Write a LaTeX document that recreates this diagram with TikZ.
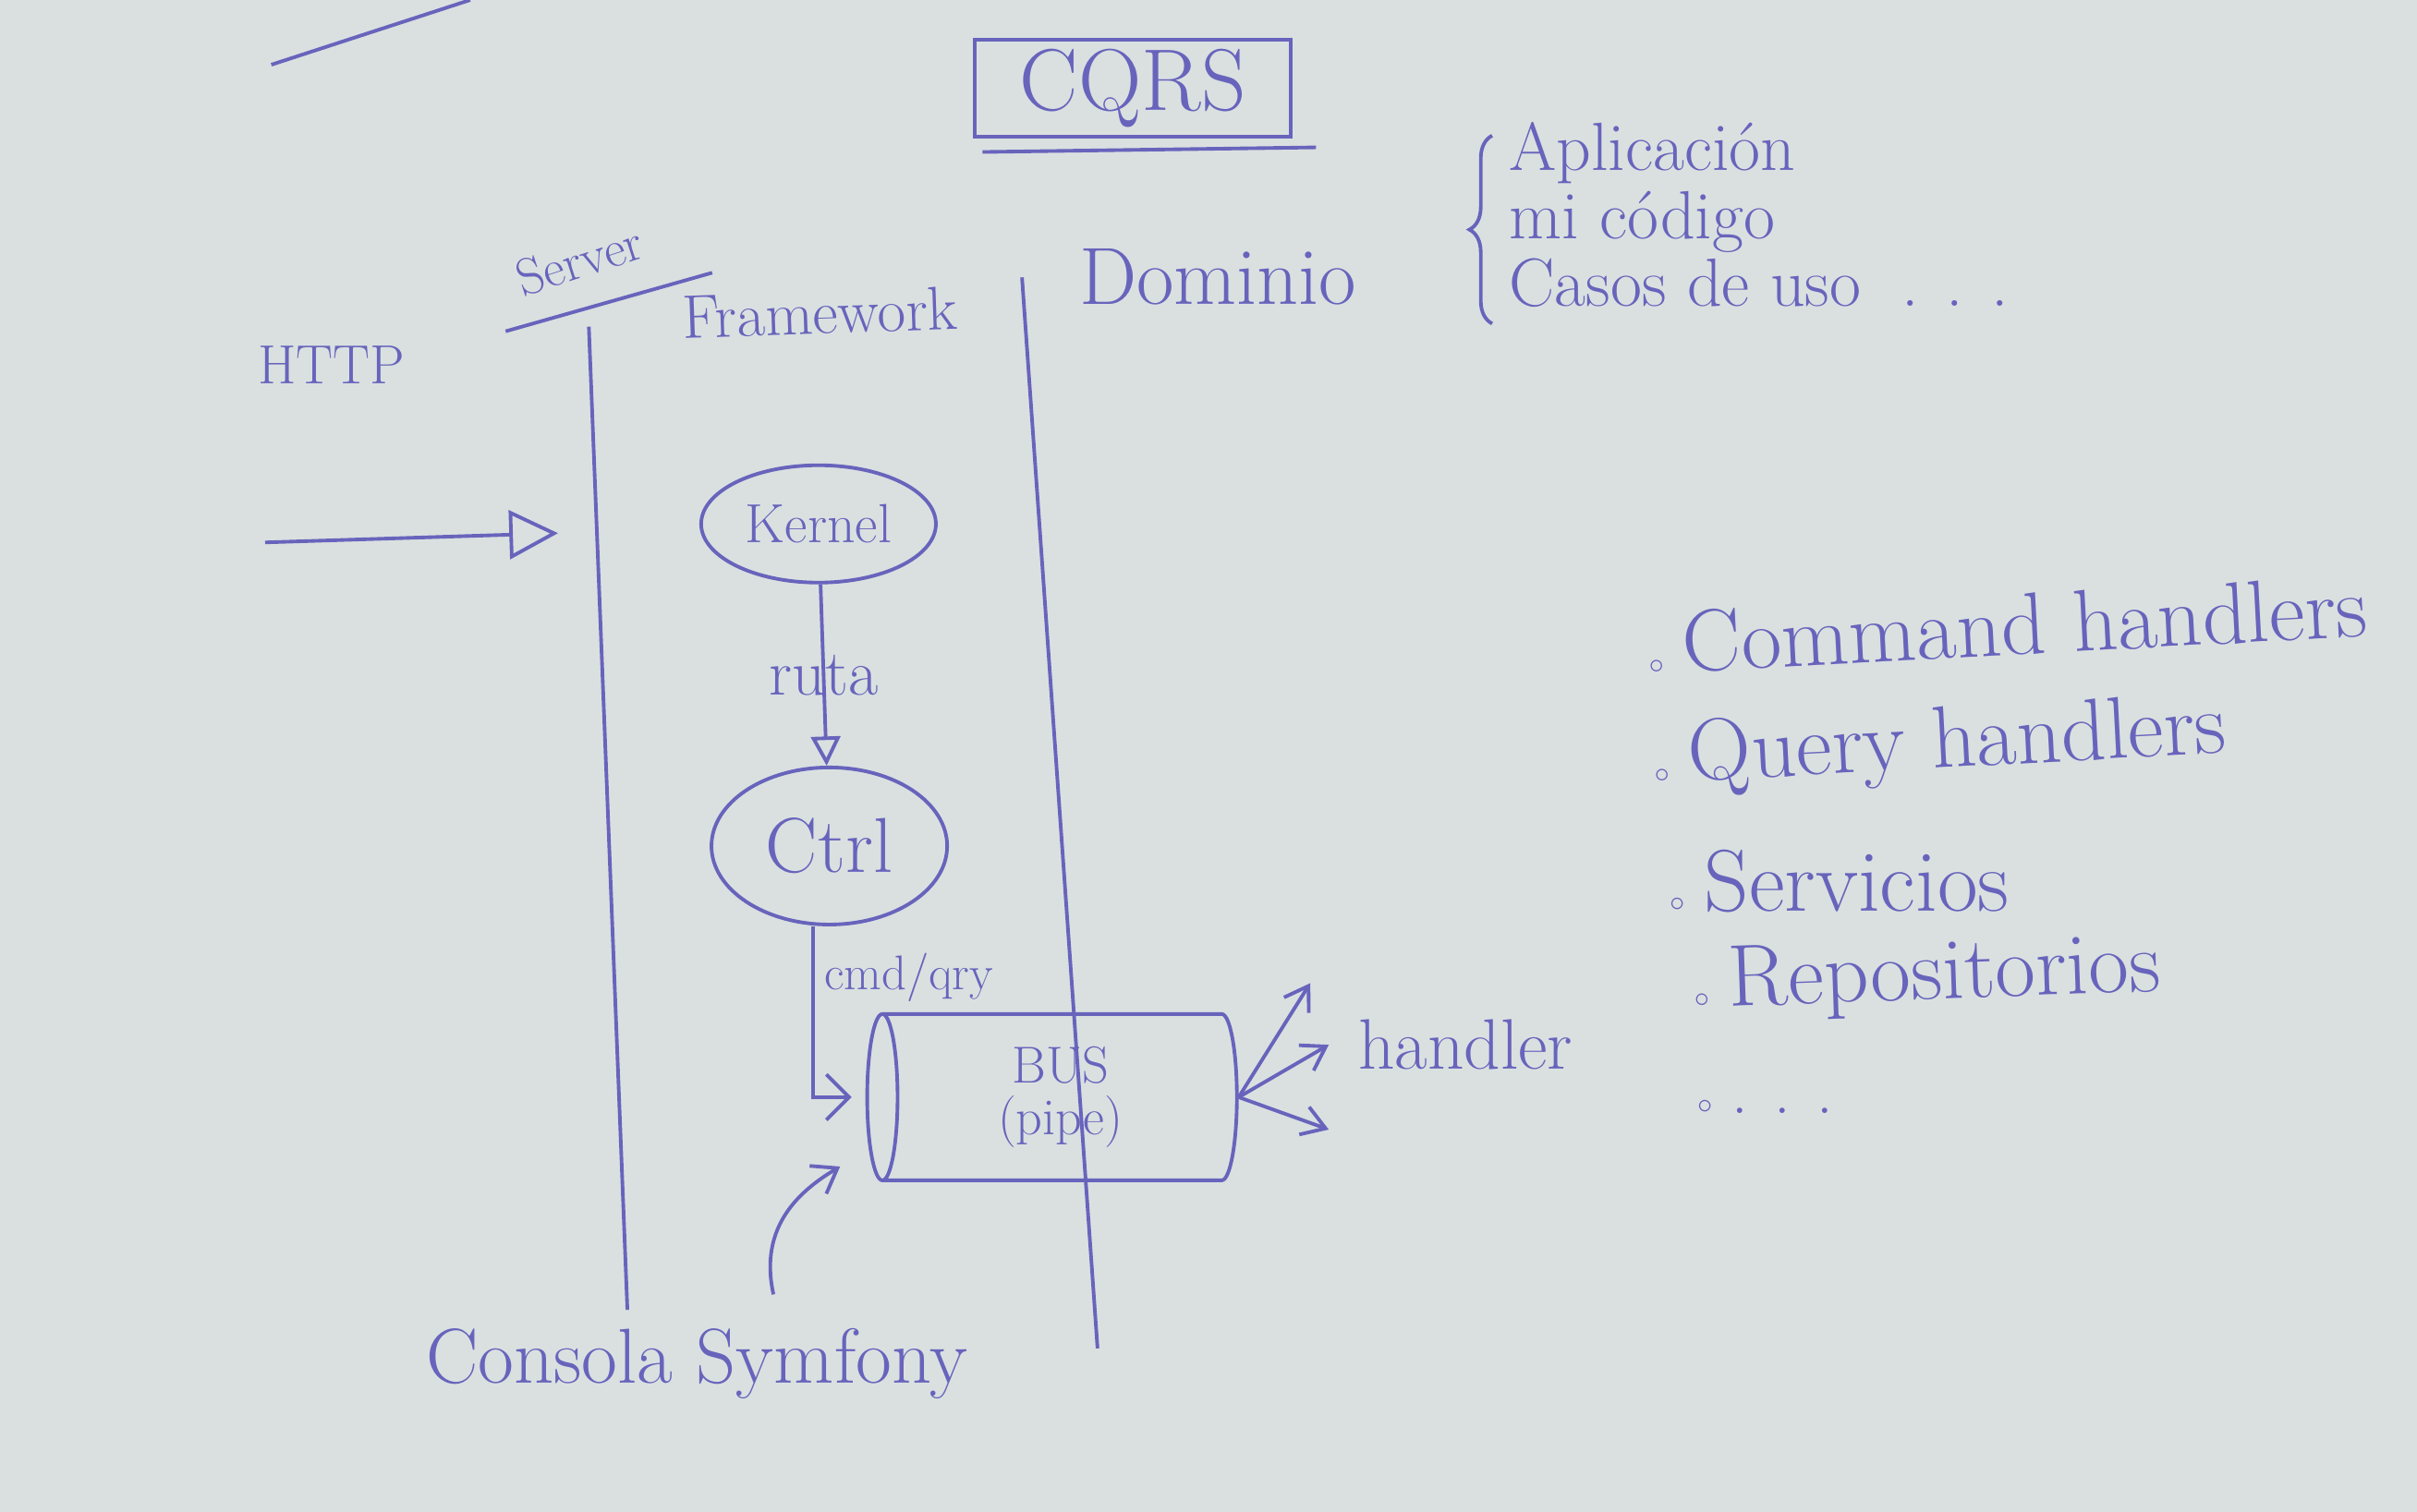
\documentclass[tikz,border=0pt]{standalone}
\usepackage{fontspec}
\usepackage{tikz}
\usetikzlibrary{arrows.meta,shapes.geometric,decorations.pathreplacing}
\definecolor{board}{RGB}{218,224,224}
\definecolor{pen}{RGB}{104,100,188}

\begin{document}
\begin{tikzpicture}[x=0.016684cm,y=-0.016684cm,color=pen,line width=1.1pt,
		hand/.style={font=\fontsize{#1}{#1}\selectfont,inner sep=0pt},
		open tip/.style={-{Triangle[open,length=#1,width=#1]}},
		barb/.style={-{Straight Barb[length=7pt,width=#1]}}]
			\useasboundingbox (0,0) rectangle (1568,981);
			\fill[board] (0,0) rectangle (1568,981);
			\draw (176,42) -- (305,0);
			% titulo
			\node[draw,hand=27,minimum width=3.42cm,minimum height=1.05cm] (cqrs) at (735,57) {CQRS};
			\draw ([xshift=0.1cm,yshift=-0.15cm]cqrs.south west) -- ([xshift=0.25cm,yshift=-0.1cm]cqrs.south east);
			% capas
			\node[hand=17] (http) at (215,237) {HTTP};
			\node[hand=16,rotate=18] (server) at (376,169) {Server};
			\draw (328,215) -- (462,177);
			\node[hand=19,rotate=2] (framework) at (532,203) {Framework};
			\node[hand=25] (dominio) at (790,180) {Dominio};
			\coordinate (fwtop) at (382,212); \coordinate (fwbot) at (407,850);
			\coordinate (domtop) at (663,180); \coordinate (dombot) at (712,875);
			\draw (fwtop) -- (fwbot);
			\draw (domtop) -- (dombot);
			\coordinate (req) at (172,352); \coordinate (reqend) at (362,346);
			\draw[open tip=15pt] (req) -- (reqend);
			% flujo
			\node[draw,ellipse,hand=17,minimum width=2.54cm,minimum height=1.27cm] (kernel) at (531,340) {Kernel};
			\node[draw,ellipse,hand=24,minimum width=2.55cm,minimum height=1.7cm] (ctrl) at (538,549) {Ctrl};
			\draw[open tip=9pt] (kernel) -- (ctrl) node[midway,hand=20] {ruta};
			\node[draw,cylinder,shape border rotate=180,aspect=0.3,hand=16,align=center,
				minimum width=1.8cm,minimum height=4cm] (bus) at (688,712) {BUS\\(pipe)};
			\draw[barb=14pt] ([xshift=-0.18cm]ctrl.south) |- ([xshift=-0.15cm]bus.west)
				node[pos=0.15,right=3pt,hand=15] {cmd/qry};
			\node[hand=22,anchor=west] (handler) at (880,678) {handler};
			\coordinate (hup) at (850,638); \coordinate (hdown) at (862,733);
			\draw[barb=9pt] (bus.east) -- (hup);
			\draw[barb=9pt] (bus.east) -- ([xshift=-0.3cm]handler.west);
			\draw[barb=9pt] (bus.east) -- (hdown);
			\node[hand=24] (consola) at (452,885) {Consola Symfony};
			\coordinate (conin) at (545,757);
			\draw[barb=10pt] ([xshift=0.83cm,yshift=0.35cm]consola.north) .. controls +(-10,-45) and +(-25,15) .. (conin);
			% aplicacion
			\draw[decorate,decoration={brace,amplitude=7pt}] (968,210) -- (968,88);
			\node[hand=21,anchor=north west,align=left] (app) at (978,78) {Aplicación\\mi código\\Casos de uso~~. . .};
			\node[hand=27,anchor=west,rotate=3] (cmdh) at (1068,418) {{\small$\circ$}\hspace{6pt}Command handlers};
			\node[hand=27,anchor=west,rotate=3] (qryh) at (1072,494) {{\small$\circ$}\hspace{6pt}Query handlers};
			\node[hand=27,anchor=west] (serv) at (1082,572) {{\small$\circ$}\hspace{6pt}Servicios};
			\node[hand=27,anchor=west,rotate=2] (repo) at (1098,640) {{\small$\circ$}\hspace{6pt}Repositorios};
			\node[hand=20,anchor=west] (more) at (1100,718) {{\small$\circ$}\hspace{6pt}. . .};
		\end{tikzpicture}
\end{document}
